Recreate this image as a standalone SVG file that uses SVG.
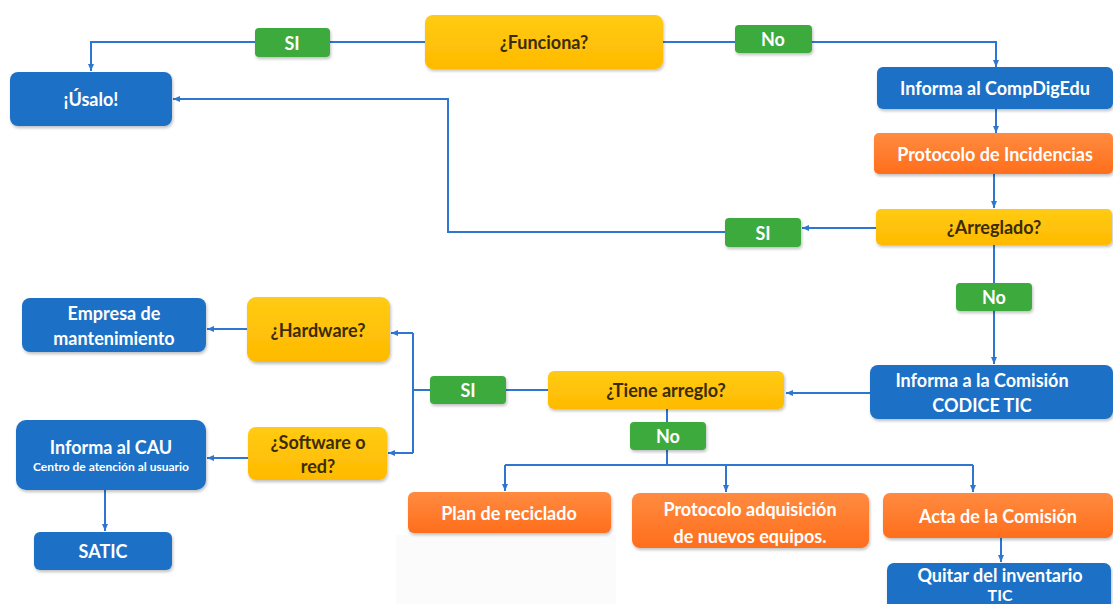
<svg xmlns="http://www.w3.org/2000/svg" width="1113" height="604" viewBox="0 0 1113 604">
<defs>
<linearGradient id="gY" x1="0" y1="0" x2="0" y2="1"><stop offset="0" stop-color="#FFCB14"/><stop offset="1" stop-color="#FFBA00"/></linearGradient>
<linearGradient id="gO" x1="0" y1="0" x2="0" y2="1"><stop offset="0" stop-color="#FF8B40"/><stop offset="1" stop-color="#FF6E1C"/></linearGradient>
<filter id="sh" x="-10%" y="-20%" width="120%" height="150%"><feDropShadow dx="1" dy="2" stdDeviation="1.5" flood-color="#000" flood-opacity="0.25"/></filter>
<marker id="ar" markerUnits="userSpaceOnUse" markerWidth="8" markerHeight="8" refX="7" refY="4" orient="auto"><path d="M0,1 L7,4 L0,7 z" fill="#2F76D2"/></marker>
<style>
.blue{fill:#1F6FC6;filter:url(#sh)}
.yel{fill:url(#gY);filter:url(#sh)}
.ora{fill:url(#gO);filter:url(#sh)}
.grn{fill:#3EAA3E;filter:url(#sh)}
text{font-family:Lato,"Open Sans","Liberation Sans",sans-serif;font-size:18px;font-weight:bold;text-anchor:middle;dominant-baseline:central}
.w{fill:#FFFFFF}
.d{fill:#3B2C00}
.sm{font-size:10.5px}
.ln{fill:none;stroke:#2F76D2;stroke-width:2}
</style>
</defs>
<rect x="0" y="0" width="1113" height="604" fill="#FFFFFF"/>
<rect x="396" y="535" width="220" height="69" fill="#FCFBFC"/>
<g id="connectors">
<path class="ln" d="M425,42 H91 V71" marker-end="url(#ar)"/>
<path class="ln" d="M663,42 H996 V67" marker-end="url(#ar)"/>
<path class="ln" d="M996,109 V133" marker-end="url(#ar)"/>
<path class="ln" d="M994,174 V208" marker-end="url(#ar)"/>
<path class="ln" d="M876,228 H802" marker-end="url(#ar)"/>
<path class="ln" d="M725,232 H448 V99 H173" marker-end="url(#ar)"/>
<path class="ln" d="M994,245 V364" marker-end="url(#ar)"/>
<path class="ln" d="M870,393 H786" marker-end="url(#ar)"/>
<path class="ln" d="M548,390 H413"/>
<path class="ln" d="M413,333 V453"/>
<path class="ln" d="M413,333 H391" marker-end="url(#ar)"/>
<path class="ln" d="M413,453 H388" marker-end="url(#ar)"/>
<path class="ln" d="M247,329 H207" marker-end="url(#ar)"/>
<path class="ln" d="M248,458 H207" marker-end="url(#ar)"/>
<path class="ln" d="M105,490 V531" marker-end="url(#ar)"/>
<path class="ln" d="M667,409 V465"/>
<path class="ln" d="M505,465 H973"/>
<path class="ln" d="M505,465 V491" marker-end="url(#ar)"/>
<path class="ln" d="M726,465 V492" marker-end="url(#ar)"/>
<path class="ln" d="M973,465 V492" marker-end="url(#ar)"/>
<path class="ln" d="M1001,538 V562" marker-end="url(#ar)"/>
</g>
<g id="lbl-si-top"><rect class="grn" x="255" y="28" width="75" height="29" rx="4"/><text class="w" x="292" y="43">SI</text></g>
<g id="lbl-no-top"><rect class="grn" x="735" y="25" width="77" height="28" rx="4"/><text class="w" x="773" y="39">No</text></g>
<g id="lbl-si-arr"><rect class="grn" x="725" y="218" width="76" height="29" rx="4"/><text class="w" x="763" y="233">SI</text></g>
<g id="lbl-no-arr"><rect class="grn" x="956" y="283" width="76" height="28" rx="4"/><text class="w" x="994" y="297">No</text></g>
<g id="lbl-si-mid"><rect class="grn" x="430" y="376" width="76" height="28" rx="4"/><text class="w" x="468" y="390">SI</text></g>
<g id="lbl-no-mid"><rect class="grn" x="630" y="422" width="76" height="28" rx="4"/><text class="w" x="668" y="436">No</text></g>
<g id="funciona"><rect class="yel" x="425" y="15" width="238" height="54" rx="8"/><text class="d" x="544" y="42">¿Funciona?</text></g>
<g id="usalo"><rect class="blue" x="10" y="72" width="162" height="54" rx="8"/><text class="w" x="91" y="99">¡Úsalo!</text></g>
<g id="compdigedu"><rect class="blue" x="877" y="67" width="236" height="42" rx="6"/><text class="w" x="995" y="88">Informa al CompDigEdu</text></g>
<g id="protocolo-inc"><rect class="ora" x="874" y="133" width="239" height="41" rx="5"/><text class="w" x="995" y="154">Protocolo de Incidencias</text></g>
<g id="arreglado"><rect class="yel" x="876" y="209" width="236" height="36" rx="5"/><text class="d" x="994" y="227">¿Arreglado?</text></g>
<g id="empresa"><rect class="blue" x="22" y="298" width="184" height="54" rx="8"/><text class="w" x="114" y="313">Empresa de</text><text class="w" x="114" y="338">mantenimiento</text></g>
<g id="hardware"><rect class="yel" x="247" y="297" width="143" height="65" rx="9"/><text class="d" x="318" y="330">¿Hardware?</text></g>
<g id="software"><rect class="yel" x="248" y="427" width="139" height="53" rx="8"/><text class="d" x="318" y="442">¿Software o</text><text class="d" x="318" y="466">red?</text></g>
<g id="cau"><rect class="blue" x="16" y="420" width="190" height="70" rx="10"/><text class="w" x="111" y="447">Informa al CAU</text><text class="w sm" x="111" y="467" textLength="156" lengthAdjust="spacingAndGlyphs">Centro de atención al usuario</text></g>
<g id="satic"><rect class="blue" x="34" y="532" width="138" height="38" rx="6"/><text class="w" x="103" y="551">SATIC</text></g>
<g id="tiene"><rect class="yel" x="548" y="371" width="236" height="38" rx="6"/><text class="d" x="666" y="390">¿Tiene arreglo?</text></g>
<g id="comision"><rect class="blue" x="870" y="365" width="243" height="54" rx="8"/><text class="w" x="982" y="380">Informa a la Comisión</text><text class="w" x="982" y="405">CODICE TIC</text></g>
<g id="reciclado"><rect class="ora" x="408" y="492" width="203" height="41" rx="6"/><text class="w" x="509" y="513">Plan de reciclado</text></g>
<g id="adquisicion"><rect class="ora" x="632" y="493" width="237" height="55" rx="8"/><text class="w" x="750" y="509">Protocolo adquisición</text><text class="w" x="750" y="536">de nuevos equipos.</text></g>
<g id="acta"><rect class="ora" x="883" y="493" width="230" height="45" rx="7"/><text class="w" x="998" y="516">Acta de la Comisión</text></g>
<g id="quitar"><rect class="blue" x="887" y="563" width="224" height="50" rx="7"/><text class="w" x="1000" y="575">Quitar del inventario</text><text class="w" x="1000" y="594" style="font-size:16px">TIC</text></g>
</svg>
